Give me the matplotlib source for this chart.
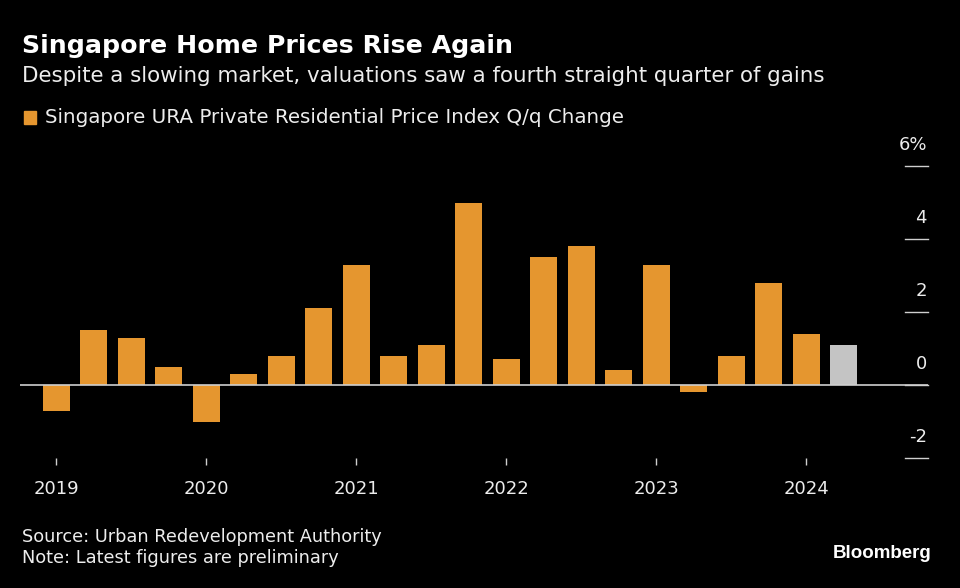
import matplotlib
matplotlib.use("Agg")
import matplotlib.pyplot as plt
import numpy as np

# 季度数据 2019Q1 - 2024Q2
quarters = ["2019Q1", "2019Q2", "2019Q3", "2019Q4",
            "2020Q1", "2020Q2", "2020Q3", "2020Q4",
            "2021Q1", "2021Q2", "2021Q3", "2021Q4",
            "2022Q1", "2022Q2", "2022Q3", "2022Q4",
            "2023Q1", "2023Q2", "2023Q3", "2023Q4",
            "2024Q1", "2024Q2"]
changes = [-0.7, 1.5, 1.3, 0.5,
           -1.0, 0.3, 0.8, 2.1,
           3.3, 0.8, 1.1, 5.0,
           0.7, 3.5, 3.8, 0.4,
           3.3, -0.2, 0.8, 2.8,
           1.4, 1.1]
preliminary = [False] * 21 + [True]
year_labels = ["2019", "2020", "2021", "2022", "2023", "2024"]
y_ticks = [-2, 0, 2, 4, 6]

ORANGE = "#E5962F"
GREY = "#C4C4C4"
TXT = "#EDEDED"

plt.rcParams["font.family"] = ["DejaVu Sans"]

fig = plt.figure(figsize=(9.6, 5.88), dpi=100, facecolor="black")
W, H = 960, 588
ax = fig.add_axes([20 / W, 1 - 458 / H, (928 - 20) / W, (458 - 166) / H])
ax.set_facecolor("black")

x = np.arange(len(changes))
colors = [GREY if p else ORANGE for p in preliminary]
ax.bar(x, changes, width=0.72, color=colors, zorder=2)
ax.axhline(0, color="#CFCFCF", lw=1.2, zorder=3)

ax.set_xlim(-0.96, 23.25)
ax.set_ylim(-2, 6)

for s in ax.spines.values():
    s.set_visible(False)
ax.set_yticks([])

# 年份刻度在每年第一季度
year_pos = [quarters.index(y + "Q1") for y in year_labels]
ax.set_xticks(year_pos)
ax.set_xticklabels(year_labels, fontsize=13, color=TXT)
ax.tick_params(axis="x", length=5, width=1, color="#CFCFCF", pad=11)

# 右侧刻度: 短横线 + 上方标签
for v in y_ticks:
    ax.plot([22.64, 23.25], [v, v], color="#CFCFCF", lw=1, clip_on=False)
    lab = "%d%%" % v if v == 6 else str(v)
    ax.text(23.22, v + 0.58, lab, ha="right", va="center", fontsize=13, color=TXT)

fig.text(22 / W, 1 - 46 / H, "Singapore Home Prices Rise Again", fontsize=18.2,
         fontweight="bold", color="white", va="center")
fig.text(22 / W, 1 - 76 / H,
         "Despite a slowing market, valuations saw a fourth straight quarter of gains",
         fontsize=15.4, color=TXT, va="center")
fig.patches.append(plt.Rectangle((24 / W, 1 - 124 / H), 12 / W, 13 / H,
                                 color=ORANGE, transform=fig.transFigure))
fig.text(45 / W, 1 - 117 / H,
         "Singapore URA Private Residential Price Index Q/q Change",
         fontsize=14.3, color=TXT, va="center")

fig.text(22 / W, 1 - 537 / H, "Source: Urban Redevelopment Authority",
         fontsize=12.8, color=TXT, va="center")
fig.text(22 / W, 1 - 558 / H, "Note: Latest figures are preliminary",
         fontsize=12.8, color=TXT, va="center")
fig.text(931 / W, 1 - 553 / H, "Bloomberg", fontsize=13.5, fontweight="bold",
         color="white", ha="right", va="center",
         family=["Liberation Sans", "DejaVu Sans"])

fig.savefig("out.png", dpi=100, facecolor="black")
